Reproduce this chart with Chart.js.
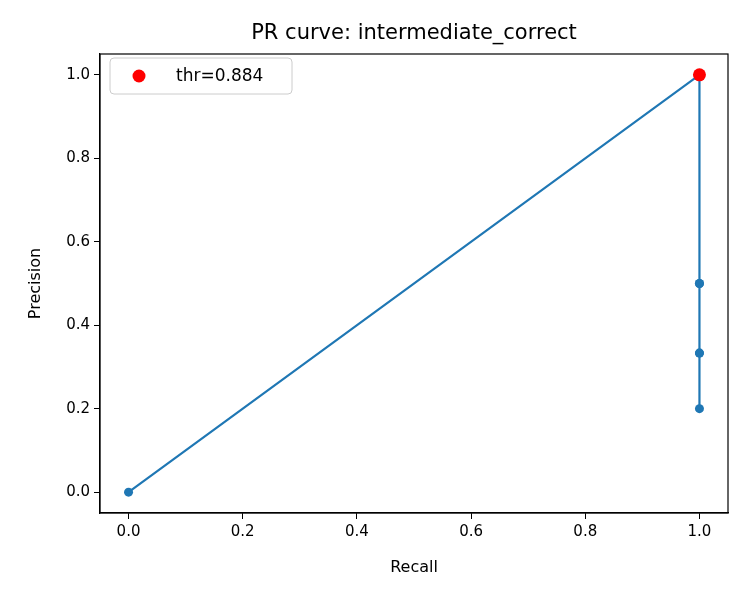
<!DOCTYPE html>
<html><head><script src="https://cdn.jsdelivr.net/npm/chart.js@4"></script>
<style>body{margin:0;background:#fff}#w{width:750px;height:600px}</style></head>
<body><div id="w"><canvas id="c"></canvas></div>
<script>
const recall = [0, 1, 1, 1, 1, 1, 1];
const precision = [0, 1, 0.5, 0.5, 0.3333, 0.3333, 0.2];
const bestPoint = {x: 1, y: 1};
const tickValues = [0, 0.2, 0.4, 0.6, 0.8, 1.0];
const titleText = 'PR curve: intermediate_correct';
const legendText = 'thr=0.884';
const F = 'DejaVu Sans';
const fixedTicks = s => { s.ticks = tickValues.map(v => ({value: v})); };
const extras = {
  id: 'extras',
  afterDraw(ch) {
    const c = ch.ctx, a = ch.chartArea;
    c.save();
    c.fillStyle = '#000'; c.font = '21px ' + F; c.textAlign = 'center'; c.textBaseline = 'bottom';
    c.fillText(titleText, (a.left + a.right) / 2, a.top - 10);
    const bx = a.left + 10, by = a.top + 4, bw = 182, bh = 36;
    c.strokeStyle = '#ccc'; c.lineWidth = 1; c.fillStyle = 'rgba(255,255,255,0.8)';
    c.beginPath(); c.roundRect(bx, by, bw, bh, 4); c.fill(); c.stroke();
    c.fillStyle = 'red'; c.beginPath(); c.arc(bx + 29, by + bh / 2, 6.5, 0, 2 * Math.PI); c.fill();
    c.fillStyle = '#000'; c.font = '17px ' + F; c.textAlign = 'left'; c.textBaseline = 'middle';
    c.fillText(legendText, bx + 66, by + bh / 2 + 1);
    c.restore();
  }
};
const gridOpt = {display: true, drawOnChartArea: false, drawTicks: true, tickLength: 6, tickColor: '#000'};
new Chart(document.getElementById('c'), {
  type: 'scatter',
  data: {datasets: [
    {data: bestPoint ? [bestPoint] : [], pointRadius: 6.5, pointBackgroundColor: 'red', pointBorderWidth: 0, showLine: false},
    {data: recall.map((r, i) => ({x: r, y: precision[i]})), showLine: true, borderColor: '#1f77b4', borderWidth: 2.2,
     pointRadius: 4.5, pointBackgroundColor: '#1f77b4', pointBorderWidth: 0}
  ]},
  options: {
    responsive: true, maintainAspectRatio: false, animation: false,
    layout: {padding: {top: 54, right: 22, left: 22, bottom: 19}},
    plugins: {legend: {display: false}, tooltip: {enabled: false}},
    scales: {
      x: {min: -0.05, max: 1.05, afterBuildTicks: fixedTicks,
        afterFit: s => { s.height = 68; },
        grid: gridOpt,
        border: {color: '#000', width: 1.2},
        ticks: {color: '#000', font: {family: F, size: 15}, padding: 4, callback: v => v.toFixed(1)},
        title: {display: true, text: 'Recall', color: '#000', font: {family: F, size: 16}, padding: {top: 2}}},
      y: {min: -0.05, max: 1.05, afterBuildTicks: fixedTicks,
        afterFit: s => { s.width = 78; },
        grid: gridOpt,
        border: {color: '#000', width: 1.2},
        ticks: {color: '#000', font: {family: F, size: 15}, padding: 4, callback: v => v.toFixed(1)},
        title: {display: true, text: 'Precision', color: '#000', font: {family: F, size: 16}, padding: {bottom: 4}}}
    }
  },
  plugins: [extras, {id: 'bg', afterDraw(ch) {
    const c = ch.ctx, a = ch.chartArea; c.save(); c.strokeStyle = '#000'; c.lineWidth = 1.2;
    c.strokeRect(a.left, a.top, a.right - a.left, a.bottom - a.top); c.restore(); }}]
});
</script></body></html>
